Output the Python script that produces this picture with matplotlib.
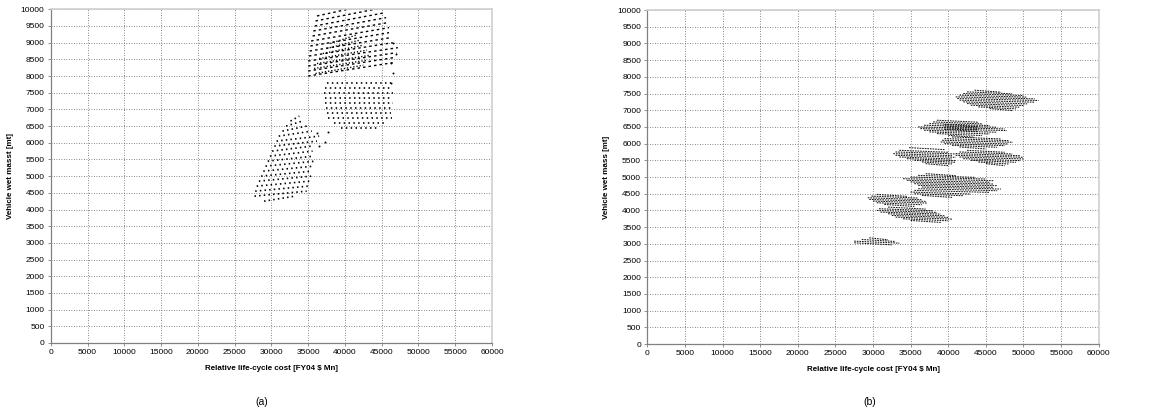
import matplotlib
matplotlib.use("Agg")
import matplotlib.pyplot as plt

plt.rcParams["font.family"] = ["Liberation Sans", "DejaVu Sans"]

# ---------------- panel (a) ----------------
# each cluster is a set of rows of design points: y at row start, x start, x end
# (rows rise by the cluster's "rise" value from start to end)
a_low_y = [4250, 4400, 4550, 4700, 4850, 5000, 5150, 5300, 5450, 5600,
           5750, 5900, 6050, 6200, 6350, 6500, 6650]
a_low_x0 = [29000, 27700, 27800, 28000, 28300, 28600, 28900, 29200, 29500, 29800,
            30100, 30400, 30700, 31000, 31500, 32000, 32600]
a_low_x1 = [33200, 34800, 35000, 35200, 35400, 35500, 35800, 36000, 35800, 35600,
            35500, 36200, 36500, 35500, 34800, 34200, 33800]
a_low_rise = 150

a_mid_y = [6450, 6600, 6750, 6900, 7050, 7200, 7350, 7500, 7650, 7800]
a_mid_x0 = [39500, 38500, 37700, 37500, 37400, 37300, 37300, 37200, 37300, 37500]
a_mid_x1 = [44500, 45500, 46400, 46300, 46400, 46500, 46300, 46500, 46400, 46300]
a_mid_rise = 0

a_top_y = [8000, 8150, 8300, 8450, 8600, 8750, 8900, 9050, 9200, 9350,
           9500, 9650, 9800]
a_top_x0 = [35000, 35000, 35000, 35000, 35100, 35200, 35300, 35400, 35600, 35700,
            35900, 36000, 36200]
a_top_x1 = [46500, 46600, 47000, 47200, 46500, 46200, 46000, 46000, 45800, 45600,
            45500, 45200, 44500]
a_top_rise = 400

a_core_y = [8075, 8225, 8375, 8525, 8675, 8825, 8975]
a_core_x0 = [36000, 35800, 36200, 36500, 37000, 37500, 38000]
a_core_x1 = [42500, 43000, 43500, 43000, 42500, 42000, 41500]
a_core_rise = 250

a_pts_x = [36200, 37300, 37700, 36500, 47000, 46500, 46200, 46500, 46300]
a_pts_y = [6280, 6030, 6330, 5900, 8650, 9000, 8400, 8100, 7800]

# ---------------- panel (b) ----------------
b_c1_y = [7600, 7550, 7500, 7450, 7400, 7350, 7300, 7250, 7200, 7150, 7100, 7050]
b_c1_x0 = [43500, 42500, 42000, 41500, 41000, 41200, 41500, 42000, 42500, 43000, 44000, 45500]
b_c1_x1 = [47000, 48500, 50000, 50500, 51500, 52000, 51500, 50500, 50000, 49500, 49000, 48500]

b_c2_y = [6700, 6650, 6600, 6575, 6550, 6525, 6500, 6475, 6450, 6425, 6400, 6350, 6300, 6250]
b_c2_x0 = [38500, 38000, 37500, 39500, 36800, 39500, 36000, 39500, 36300, 39500, 36800, 37500, 38500, 40000]
b_c2_x1 = [44000, 44500, 45500, 44000, 46500, 44000, 47500, 44000, 47800, 44000, 46500, 45500, 44500, 43500]

b_c3_y = [6200, 6150, 6100, 6050, 6000, 5950, 5900]
b_c3_x0 = [40500, 39500, 39200, 39000, 39500, 40500, 41500]
b_c3_x1 = [47000, 48000, 48600, 48000, 47500, 46500, 45000]

b_c4_y = [5880, 5800, 5750, 5700, 5650, 5600, 5550, 5500, 5450, 5400]
b_c4_x0 = [34800, 33500, 33000, 32700, 33000, 33500, 34500, 35500, 36500, 37000]
b_c4_x1 = [39500, 40000, 41000, 40500, 41000, 40500, 41000, 41000, 40500, 40000]

b_c5_y = [5800, 5750, 5700, 5650, 5600, 5550, 5500, 5450, 5400]
b_c5_x0 = [42500, 41500, 41000, 41000, 41500, 42000, 43000, 44000, 45000]
b_c5_x1 = [47500, 48500, 49500, 50000, 50000, 49500, 49000, 48000, 47500]

b_c6_y = [5100, 5050, 5000, 4950, 4900, 4850, 4800, 4750, 4700, 4650, 4600, 4550, 4500, 4450]
b_c6_x0 = [37000, 36000, 35000, 34000, 34500, 35000, 35500, 36000, 36500, 36000, 35500, 35000, 35500, 36500]
b_c6_x1 = [41000, 43500, 45000, 46000, 45500, 46000, 46500, 46000, 47000, 46500, 45500, 43000, 42000, 40500]

b_c7_y = [4480, 4430, 4380, 4330, 4280, 4230, 4180]
b_c7_x0 = [30500, 29800, 29300, 29500, 30000, 30500, 31500]
b_c7_x1 = [34500, 36000, 36500, 37000, 37200, 36500, 35500]

b_c8_y = [4100, 4050, 4000, 3950, 3900, 3850, 3800, 3750, 3700]
b_c8_x0 = [32000, 30800, 30500, 31000, 32000, 32500, 33000, 34000, 35000]
b_c8_x1 = [37000, 38000, 38500, 39000, 39500, 40000, 40500, 40000, 39000]

b_c9_y = [3180, 3130, 3080, 3030]
b_c9_x0 = [29500, 28500, 27500, 27500]
b_c9_x1 = [32000, 33000, 33500, 32500]
b_tilt = -60

x_ticks = list(range(0, 60001, 5000))
y_ticks = list(range(0, 10001, 500))


def draw_rows(ax, ys, x0s, x1s, rise, dashes, lw, color="black"):
    for y, x0, x1 in zip(ys, x0s, x1s):
        ax.plot([x0, x1], [y, y + rise], color=color, lw=lw,
                dashes=dashes, solid_capstyle="butt", dash_capstyle="butt")


def style_axes(ax, ylabel):
    ax.set_xlim(0, 60000)
    ax.set_ylim(0, 10000)
    ax.set_xticks(x_ticks)
    ax.set_yticks(y_ticks)
    ax.tick_params(labelsize=6, length=2.5, width=0.6, color="#808080", pad=2)
    ax.grid(True, color="#606060", lw=0.6, dashes=(1, 2))
    ax.set_axisbelow(True)
    for side in ("top", "right"):
        ax.spines[side].set_color("#d0d0d0")
        ax.spines[side].set_linewidth(1.2)
    for side in ("left", "bottom"):
        ax.spines[side].set_color("#808080")
        ax.spines[side].set_linewidth(0.9)
    ax.set_xlabel("Relative life-cycle cost [FY04 $ Mn]", fontsize=5.8,
                  fontweight="bold", labelpad=6)
    ax.set_ylabel(ylabel, fontsize=5.8, fontweight="bold", labelpad=5)


fig = plt.figure(figsize=(11.56, 4.17), dpi=100)
ax_a = fig.add_axes([0.0439, 0.1775, 0.3817, 0.8002])
ax_b = fig.add_axes([0.5600, 0.1750, 0.3904, 0.8010])

# (a)
draw_rows(ax_a, a_low_y, a_low_x0, a_low_x1, a_low_rise, (0.9, 1.9), 1.2)
draw_rows(ax_a, a_mid_y, a_mid_x0, a_mid_x1, a_mid_rise, (0.9, 2.0), 1.2)
draw_rows(ax_a, a_top_y, a_top_x0, a_top_x1, a_top_rise, (1.8, 2.2), 1.0)
draw_rows(ax_a, a_core_y, a_core_x0, a_core_x1, a_core_rise, (0.9, 1.4), 1.0)
ax_a.scatter(a_pts_x, a_pts_y, s=2, color="black", lw=0)
style_axes(ax_a, "Vehicle wet masst [mt]")

# (b)
for ys, x0s, x1s in [(b_c1_y, b_c1_x0, b_c1_x1), (b_c2_y, b_c2_x0, b_c2_x1),
                     (b_c3_y, b_c3_x0, b_c3_x1), (b_c4_y, b_c4_x0, b_c4_x1),
                     (b_c5_y, b_c5_x0, b_c5_x1), (b_c6_y, b_c6_x0, b_c6_x1),
                     (b_c7_y, b_c7_x0, b_c7_x1), (b_c8_y, b_c8_x0, b_c8_x1),
                     (b_c9_y, b_c9_x0, b_c9_x1)]:
    draw_rows(ax_b, ys, x0s, x1s, b_tilt, (1.6, 0.9), 0.75, color="#151515")
style_axes(ax_b, "Vehicle wet mass [mt]")

fig.text(0.2266, 0.028, "(a)", fontsize=7.5, ha="center")
fig.text(0.7525, 0.028, "(b)", fontsize=7.5, ha="center")

fig.savefig("out.png", dpi=100)
